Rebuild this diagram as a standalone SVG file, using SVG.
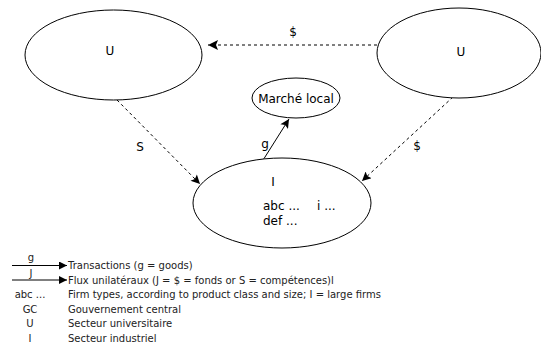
<svg xmlns="http://www.w3.org/2000/svg" width="541" height="352" viewBox="0 0 541 352">
  <defs>
    <marker id="tri" viewBox="0 0 10 10" refX="10" refY="5" markerWidth="11" markerHeight="9" markerUnits="userSpaceOnUse" orient="auto">
      <path d="M0,0 L10,5 L0,10 L2,5 Z" fill="#000"/>
    </marker>
    <marker id="triL" viewBox="0 0 10 10" refX="10" refY="5" markerWidth="14" markerHeight="10" markerUnits="userSpaceOnUse" orient="auto">
      <path d="M0,0 L10,5 L0,10 L2,5 Z" fill="#000"/>
    </marker>
    <marker id="triLeg" viewBox="0 0 10 10" refX="10" refY="5" markerWidth="12" markerHeight="8" markerUnits="userSpaceOnUse" orient="auto">
      <path d="M0,0 L10,5 L0,10 Z" fill="#000"/>
    </marker>
  </defs>
  <style>
    .node { fill: #fff; stroke: #000; stroke-width: 1; }
    .lbl { font-family: "DejaVu Sans", Verdana, sans-serif; font-size: 12px; fill: #000; }
    .leg { font-family: "DejaVu Sans", Verdana, sans-serif; font-size: 10px; fill: #222; }
    .dash { fill: none; stroke: #000; stroke-width: 1; stroke-dasharray: 3 3; }
    .solid { fill: none; stroke: #000; stroke-width: 1; }
  </style>
  <rect width="541" height="352" fill="#fff"/>

  <g id="connectors">
    <line class="dash" x1="377" y1="45" x2="208" y2="45" marker-end="url(#triL)" stroke-dasharray="4 4"/>
    <text class="lbl" x="293" y="36" text-anchor="middle">$</text>
    <line class="dash" x1="117" y1="100" x2="200" y2="184" marker-end="url(#tri)"/>
    <text class="lbl" x="140" y="151" text-anchor="middle">S</text>
    <line class="dash" x1="453" y1="97" x2="362" y2="181" marker-end="url(#tri)"/>
    <text class="lbl" x="417" y="150" text-anchor="middle">$</text>
    <line class="solid" x1="253" y1="176" x2="289" y2="119" marker-end="url(#tri)"/>
    <text class="lbl" x="265" y="148" text-anchor="middle">g</text>
  </g>

  <g id="u-left">
    <ellipse class="node" cx="113.5" cy="55" rx="88.5" ry="45"/>
    <text class="lbl" x="110" y="55" text-anchor="middle">U</text>
  </g>
  <g id="u-right">
    <ellipse class="node" cx="459" cy="53" rx="82" ry="45"/>
    <text class="lbl" x="461" y="56" text-anchor="middle">U</text>
  </g>
  <g id="marche-local">
    <ellipse class="node" cx="296" cy="98" rx="44" ry="20"/>
    <text class="lbl" x="296" y="102.5" text-anchor="middle">Marché local</text>
  </g>
  <g id="industrie">
    <ellipse class="node" cx="282" cy="203" rx="89" ry="45"/>
    <text class="lbl" x="273" y="186" text-anchor="middle" font-family="DejaVu Serif, serif">I</text>
    <text class="lbl" x="263" y="210">abc ...</text>
    <text class="lbl" x="317" y="210">i ...</text>
    <text class="lbl" x="263" y="225">def ...</text>
  </g>

  <g id="legend">
    <line class="solid" x1="12" y1="265.5" x2="67" y2="265.5" marker-end="url(#triLeg)"/>
    <text class="leg" x="31" y="261" text-anchor="middle">g</text>
    <text class="leg" x="68" y="269">Transactions (g = goods)</text>
    <line class="solid" x1="12" y1="280" x2="67" y2="280" marker-end="url(#triLeg)"/>
    <text class="leg" x="31" y="277" text-anchor="middle">J</text>
    <text class="leg" x="68" y="283.5">Flux unilatéraux (J = $ = fonds  or S = compétences)l</text>
    <text class="leg" x="30" y="298" text-anchor="middle">abc ...</text>
    <text class="leg" x="68" y="298">Firm types, according to product class and size; I = large firms</text>
    <text class="leg" x="30" y="312.5" text-anchor="middle">GC</text>
    <text class="leg" x="68" y="312.5">Gouvernement central</text>
    <text class="leg" x="30" y="327" text-anchor="middle">U</text>
    <text class="leg" x="68" y="327">Secteur universitaire</text>
    <text class="leg" x="30" y="341.5" text-anchor="middle" font-family="DejaVu Serif, serif">I</text>
    <text class="leg" x="68" y="341.5">Secteur industriel</text>
  </g>
</svg>
